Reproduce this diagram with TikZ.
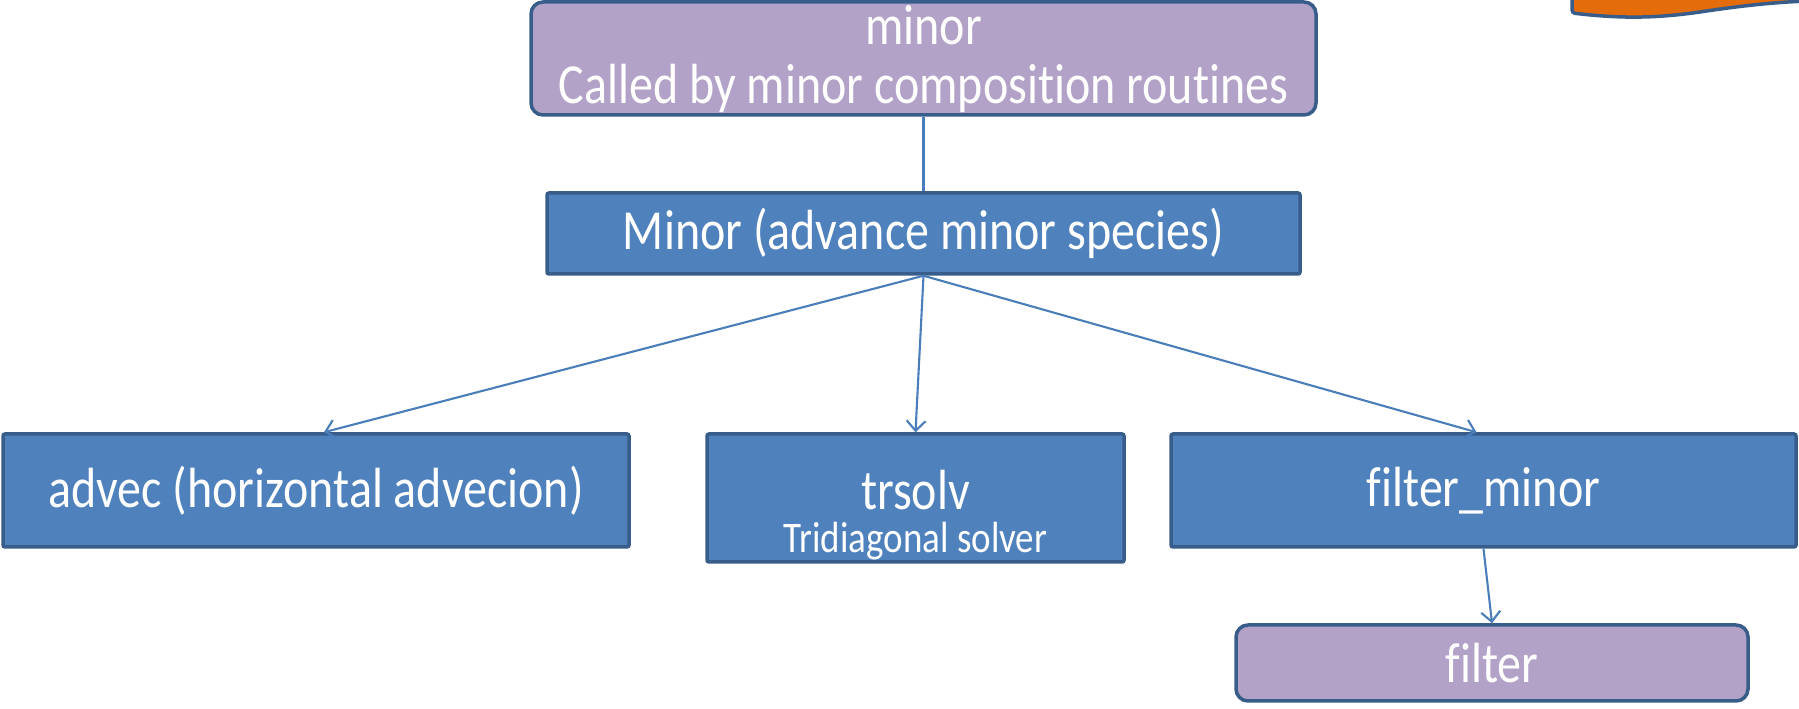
\documentclass[tikz,border=0pt]{standalone}
\usepackage{fontspec}
\usepackage{graphicx}
\setmainfont[Ligatures=NoCommon]{Carlito}
\usetikzlibrary{arrows.meta}
\definecolor{boxblue}{HTML}{4F81BD}
\definecolor{edgeblue}{HTML}{385D8A}
\definecolor{lav}{HTML}{B3A2C7}
\definecolor{linkblue}{HTML}{4A7EBB}
\definecolor{orng}{HTML}{E46C0A}
\newcommand\vstretch[1]{\scalebox{1}[1.18]{#1}}
\tikzset{
  bluebox/.style={draw=edgeblue, fill=boxblue, line width=3.5pt, rounded corners=2pt,
    inner sep=0pt, text=white, font=\fontsize{48}{58}\selectfont},
  lavbox/.style={draw=edgeblue, fill=lav, line width=3.5pt, rounded corners=12pt,
    inner sep=0pt, text=white, font=\fontsize{48}{58}\selectfont},
  txt/.style={text=white, inner sep=0pt, font=\fontsize{48}{58}\selectfont},
  link/.style={draw=linkblue, line width=2.1pt},
  arr/.style={link, -{Straight Barb[length=10pt,width=19pt]}}
}
\begin{document}
\begin{tikzpicture}[x=1pt,y=1pt]
\useasboundingbox (0,0) rectangle (1799,709);
% orange shape at top right
\draw[draw=edgeblue, fill=orng, line width=3.5pt, rounded corners=3pt]
  (1572,715) -- (1572,696) .. controls (1615,691) and (1650,690) .. (1700,697)
  .. controls (1740,703) and (1775,707) .. (1812,708) -- (1812,715) -- cycle;
% boxes
\node[lavbox, minimum width=785, minimum height=113] (top) at (923.5,650.5) {};
\node[txt, anchor=base] (topa) at (923.5,664) {\vstretch{minor}};
\node[txt, anchor=base] (topb) at (923.5,605) {\vstretch{Called by minor composition routines}};
\node[bluebox, minimum width=753, minimum height=81] (minor) at (923.5,475.5) {\vstretch{Minor (advance minor species)}};
\node[bluebox, minimum width=626, minimum height=113] (advec) at (316,218.5) {\vstretch{advec (horizontal advecion)}};
\node[bluebox, minimum width=417, minimum height=128] (trsolv) at (915.5,211) {};
\node[txt, anchor=base] (trsolva) at (915.5,199) {\vstretch{trsolv}};
\node[txt, anchor=base, font=\fontsize{37}{44}\selectfont] (trsolvb) at (915.5,156) {\vstretch{Tridiagonal solver}};
\node[bluebox, minimum width=625, minimum height=113] (filtm) at (1483.5,218.5) {\vstretch{filter\_minor}};
\node[lavbox, minimum width=512, minimum height=76] (filt) at (1492,46) {\vstretch{filter}};
% connectors
\draw[link] (top.south) -- (minor.north);
\draw[arr] (minor.south) -- ([xshift=8pt]advec.north);
\draw[arr] (minor.south) -- (trsolv.north);
\draw[arr] (minor.south) -- ([xshift=-7pt]filtm.north);
\draw[arr] (filtm.south) -- (filt.north);
\end{tikzpicture}
\end{document}
